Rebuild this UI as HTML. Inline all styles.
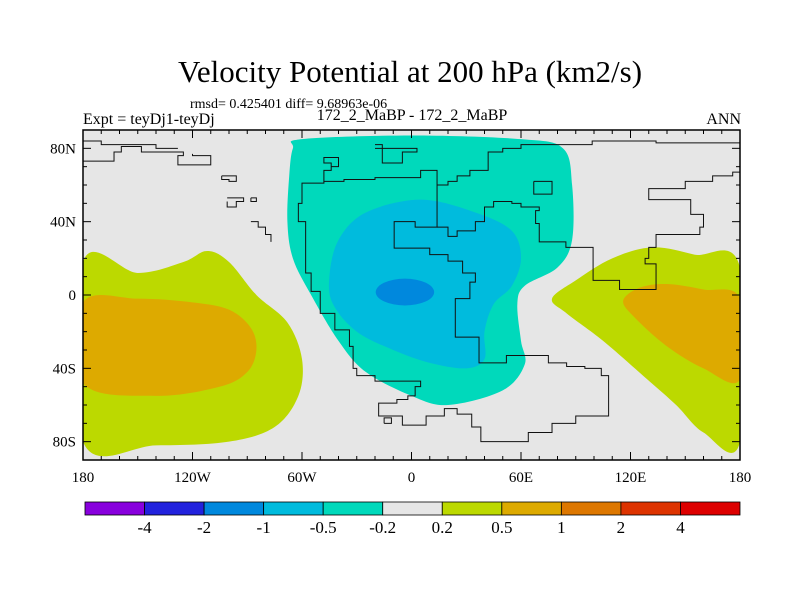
<!DOCTYPE html>
<html><head><meta charset="utf-8"><style>
body{margin:0;background:#fff;}
svg{display:block;font-family:"Liberation Serif",serif;}
</style></head><body>
<svg width="800" height="600" xmlns="http://www.w3.org/2000/svg">
<rect width="800" height="600" fill="#fff"/>
<text x="410" y="82" font-size="31" text-anchor="middle">Velocity Potential at 200 hPa (km2/s)</text>
<text x="190" y="108" font-size="14">rmsd= 0.425401 diff= 9.68963e-06</text>
<text x="83" y="124" font-size="16">Expt = teyDj1-teyDj</text>
<text x="412" y="120" font-size="16" text-anchor="middle">172_2_MaBP - 172_2_MaBP</text>
<text x="741" y="124" font-size="16" text-anchor="end">ANN</text>
<g id="map"></g>
<g id="cbar"></g>
</svg>
<script>
const lonMin=-180, lonMax=180, latMin=-90, latMax=90;
const X0=83, X1=740, Y0=130, Y1=460;
function xs(lon){return X0+(lon-lonMin)/(lonMax-lonMin)*(X1-X0);}
function ys(lat){return Y0+(latMax-lat)/(latMax-latMin)*(Y1-Y0);}
const NS="http://www.w3.org/2000/svg";
function mk(tag,attrs,parent){const e=document.createElementNS(NS,tag);for(const k in attrs)e.setAttribute(k,attrs[k]);parent.appendChild(e);return e;}
function smooth(pts){
  const p=pts.map(d=>[xs(d[0]),ys(d[1])]);const n=p.length;let s="M"+p[0][0]+","+p[0][1];
  for(let i=0;i<n;i++){const a=p[(i-1+n)%n],b=p[i],c=p[(i+1)%n],d=p[(i+2)%n];
    s+=" C"+(b[0]+(c[0]-a[0])/6)+","+(b[1]+(c[1]-a[1])/6)+" "+(c[0]-(d[0]-b[0])/6)+","+(c[1]-(d[1]-b[1])/6)+" "+c[0]+","+c[1];}
  return s+"Z";}
function steps(pts){let s="M"+xs(pts[0][0])+","+ys(pts[0][1]);
  for(let i=1;i<pts.length;i++){s+=" L"+xs(pts[i][0])+","+ys(pts[i-1][1])+" L"+xs(pts[i][0])+","+ys(pts[i][1]);}
  return s;}

// contour regions (lon,lat)
const cyanRegion=[[-60,85],[0,87],[60,85],[83,80],[88,60],[88,30],[80,15],[62,5],[58,-5],[60,-25],[62,-38],[50,-52],[20,-60],[0,-55],[-25,-42],[-40,-25],[-55,0],[-65,20],[-68,40],[-67,65],[-65,80]];
const blueRegion=[[-45,10],[-40,30],[-25,45],[5,52],[35,45],[55,35],[60,20],[55,5],[45,-5],[40,-20],[40,-35],[30,-40],[10,-37],[-10,-30],[-30,-20],[-43,-5]];
const darkBlueCenter=[-3.6,1.6], darkBlueRadius=[16,7.3];
const greenLeft=[[-180,18],[-150,12],[-125,18],[-112,24],[-100,18],[-85,0],[-68,-15],[-60,-35],[-62,-55],[-75,-72],[-100,-80],[-140,-82],[-180,-80]];
const orangeLeft=[[-180,-4],[-150,-2],[-120,-4],[-100,-8],[-88,-18],[-85,-30],[-90,-42],[-105,-50],[-140,-55],[-180,-48]];
const greenRight=[[77,-2],[90,8],[110,20],[132,26],[155,22],[180,15],[180,-80],[160,-75],[145,-60],[128,-45],[105,-25],[85,-10]];
const orangeRight=[[116,-3],[125,4],[140,6],[160,3],[180,-2],[180,-46],[160,-40],[140,-28],[122,-12]];

// coastlines (lon,lat), drawn as staircase
const coasts=[
 [[14,65],[14,37],[2,40],[-9.5,31],[-9.5,25.6],[10,22],[20,18.5],[28,12],[35,7],[32,-2],[24,-13],[24,-23],[37,-23],[37,-37],[46,-37],[52,-33],[65,-33],[75,-37],[85,-39],[95,-40],[104,-44],[108,-46],[108,-66],[90,-70],[77,-75],[64,-80],[38,-80],[38,-72],[33,-65],[25,-62],[18,-66],[8,-71],[-5,-66],[-18,-64],[-18,-59],[-8,-57],[-2,-55],[2,-50],[5,-47],[-9.6,-47],[-20,-44],[-30,-40],[-32,-28],[-34,-19],[-42,-10],[-50,2],[-55,12],[-58,24],[-58,40],[-62,50],[-60,61],[-48,62],[-37,63],[-20,64],[5,65],[5,68],[10,68],[14,65]],
 [[-48,62],[-48,68],[-44,72],[-48,75],[-40,75],[-40,70],[-44,68]],
 [[14,60],[20,62],[25,65],[32,68],[42,72],[42,78],[50,80],[60,82],[99,82],[99,84],[134,84],[134,83],[180,83]],
 [[14,37],[20,32],[25,35],[35,40],[40,48],[45,51],[55,50],[60,48],[70,46],[68,39],[70,29],[84.6,26],[99.5,22],[99.5,8],[114,3],[134,4],[134,17],[128,20],[130,26],[134,33],[158,37],[160,44],[153,52],[130,52],[130,58],[150,62],[165,65],[176,67],[180,67]],
 [[-180,79.5],[-180,73],[-163,73],[-163,78],[-159,81],[-148,81],[-148,78],[-125,78],[-125,76],[-128,71],[-110,71],[-110,76],[-120,77]],
 [[-180,84],[-170,84],[-170,82],[-140,82],[-140,80],[-128,80]],
 [[-104,65],[-96,65],[-96,62],[-100,62],[-100,63],[-104,63],[-104,65]],
 [[-101,53],[-92,53],[-92,51],[-96,51],[-96,48],[-99,48],[-101,51]],
 [[-88,53],[-85,53],[-85,51],[-88,51],[-88,53]],
 [[-88,40],[-84,40],[-84,37],[-80,37],[-80,33],[-77,33],[-77,29]],
 [[67,62],[77,62],[77,55],[67,55],[67,62]],
 [[-15,-70],[-11,-70],[-11,-67],[-15,-67],[-15,-70]],
 [[-20,82],[-16,82],[-16,72],[-5,72],[-5,78],[3,78],[3,80],[-20,80]]
];

const map=document.getElementById('map');
const bg=mk('rect',{x:X0,y:Y0,width:X1-X0,height:Y1-Y0,fill:'#e6e6e6'},map);


const fills=[[greenLeft,'#bcd900','green-region-west'],[orangeLeft,'#ddaa00','orange-region-west'],[greenRight,'#bcd900','green-region-east'],[orangeRight,'#ddaa00','orange-region-east'],[cyanRegion,'#00d9bb','cyan-region'],[blueRegion,'#00bbdd','blue-region']];
const clip=mk('clipPath',{id:'mclip'},map);mk('rect',{x:X0,y:Y0,width:X1-X0,height:Y1-Y0},clip);
const fg=mk('g',{'clip-path':'url(#mclip)'},map);
fills.forEach(f=>{const p=mk('path',{d:smooth(f[0]),fill:f[1]},fg);

});
const el=mk('ellipse',{cx:xs(darkBlueCenter[0]),cy:ys(darkBlueCenter[1]),rx:xs(darkBlueCenter[0]+darkBlueRadius[0])-xs(darkBlueCenter[0]),ry:ys(darkBlueCenter[1]-darkBlueRadius[1])-ys(darkBlueCenter[1]),fill:'#0088dd'},fg);


coasts.forEach(c=>{const p=mk('path',{d:steps(c),fill:'none',stroke:'#111','stroke-width':1},fg);

});
const fr=mk('rect',{x:X0,y:Y0,width:X1-X0,height:Y1-Y0,fill:'none',stroke:'#000','stroke-width':1.5},map);



const lonTicks=[-180,-120,-60,0,60,120,180];
const lonLabels=['180','120W','60W','0','60E','120E','180'];
const latTicks=[80,40,0,-40,-80];
const latLabels=['80N','40N','0','40S','80S'];
for(let l=-180;l<=180;l+=10){const x=xs(l),len=l%60===0?8:4;
 mk('line',{x1:x,x2:x,y1:Y0,y2:Y0+len,stroke:'#000'},map);mk('line',{x1:x,x2:x,y1:Y1,y2:Y1-len,stroke:'#000'},map);}
for(let l=-90;l<=90;l+=10){const y=ys(l),len=l%40===0?8:4;
 mk('line',{x1:X0,x2:X0+len,y1:y,y2:y,stroke:'#000'},map);mk('line',{x1:X1,x2:X1-len,y1:y,y2:y,stroke:'#000'},map);}
lonTicks.forEach((l,i)=>{const t=mk('text',{x:xs(l),y:482,'font-size':15,'text-anchor':'middle'},map);t.textContent=lonLabels[i];

});
latTicks.forEach((l,i)=>{const t=mk('text',{x:76,y:ys(l)+5,'font-size':15,'text-anchor':'end'},map);t.textContent=latLabels[i];

});

const cbColors=['#8800dd','#2222dd','#0088dd','#00bbdd','#00d9bb','#e6e6e6','#bcd900','#ddaa00','#dd7700','#dd3300','#dd0000'];
const cbLabels=['-4','-2','-1','-0.5','-0.2','0.2','0.5','1','2','4'];
const cb=document.getElementById('cbar');const cx0=85,cx1=740,cw=(cx1-cx0)/cbColors.length;
cbColors.forEach((c,i)=>{const r=mk('rect',{x:cx0+i*cw,y:502,width:cw,height:13,fill:c,stroke:'#000','stroke-width':0.8},cb);

});
cbLabels.forEach((s,i)=>{const t=mk('text',{x:cx0+(i+1)*cw,y:533,'font-size':17,'text-anchor':'middle'},cb);t.textContent=s;

});
</script>
</body></html>
